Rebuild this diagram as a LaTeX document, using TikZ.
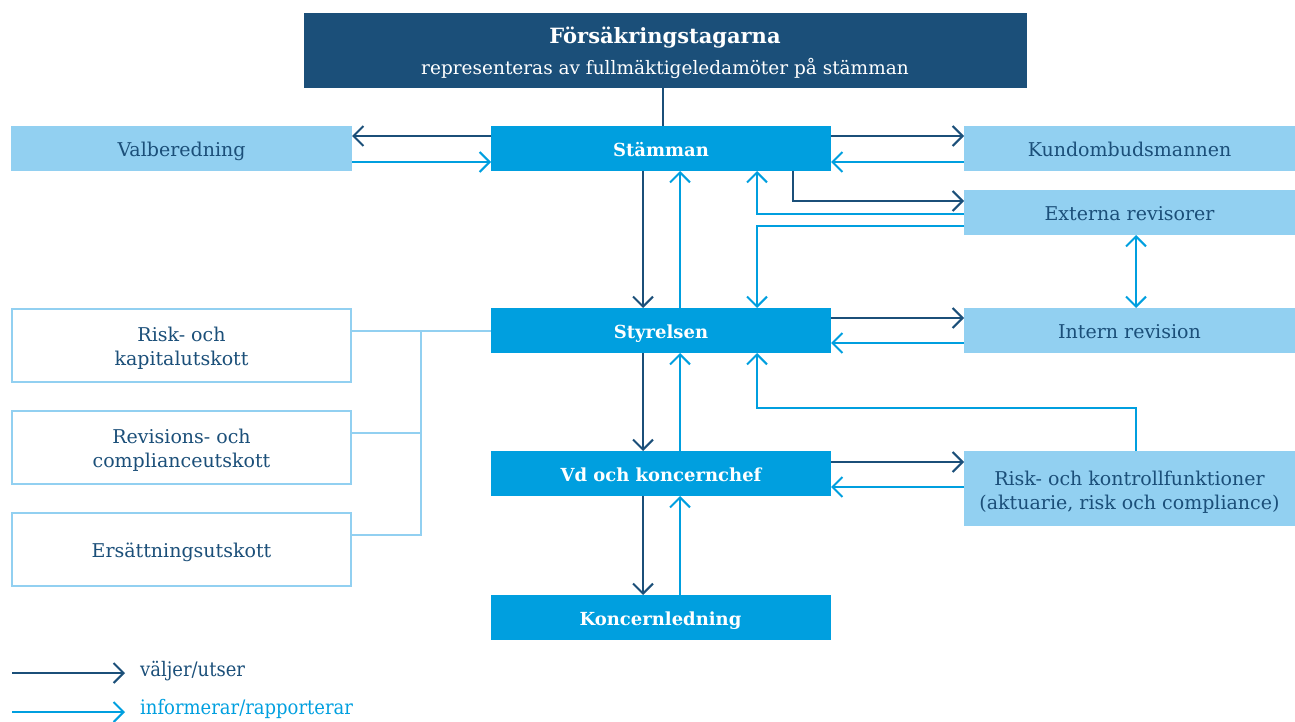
\documentclass[tikz,border=0pt]{standalone}
\usepackage{fontspec}
\setmainfont{DejaVu Serif}
\newfontfamily\condfont{DejaVu Serif Condensed}
\usetikzlibrary{arrows.meta,calc}
\definecolor{dkc}{HTML}{1B4F79}
\definecolor{brc}{HTML}{009FDF}
\definecolor{ltc}{HTML}{92D0F1}
\begin{document}
\begin{tikzpicture}[x=1pt,y=-1pt,
  mainbox/.style={fill=brc, text=white, font=\bfseries\fontsize{18}{21}\selectfont,
    minimum width=340pt, minimum height=45pt, inner sep=0pt, outer sep=0pt,
    text height=15.5pt, text depth=0pt},
  sidebox/.style={fill=ltc, text=dkc, font=\fontsize{19}{24}\selectfont, align=center,
    minimum width=331pt, minimum height=45pt, inner sep=0pt, outer sep=0pt,
    text height=15.5pt, text depth=0pt},
  plainfill/.style={fill=ltc, minimum width=331pt, minimum height=75pt, inner sep=0pt, outer sep=0pt},
  combox/.style={draw=ltc, line width=2pt, fill=white,
    minimum width=339pt, minimum height=73pt, inner sep=0pt, outer sep=0pt},
  boxtext/.style={text=dkc, align=center, font=\fontsize{19}{24}\selectfont, inner sep=0pt},
  tip/.tip={Straight Barb[length=10pt,width=20pt]},
  dka/.style={draw=dkc, line width=2pt, -tip},
  lta/.style={draw=brc, line width=2pt, -tip},
  ltb/.style={draw=brc, line width=2pt, tip-tip},
  dkline/.style={draw=dkc, line width=2pt},
  ltline/.style={draw=ltc, line width=2pt},
  legtext/.style={anchor=west, font=\condfont\fontsize{20}{22}\selectfont, inner sep=0pt}
]
\useasboundingbox (0,0) rectangle (1295,722);

% top box
\node[fill=dkc, minimum width=723pt, minimum height=75pt, inner sep=0pt, outer sep=0pt] (top) at (665.5,50.5) {};
\node[text=white, font=\bfseries\fontsize{21}{24}\selectfont, inner sep=0pt] (toptitle) at (665,38) {Försäkringstagarna};
\node[text=white, font=\fontsize{18.5}{22}\selectfont, inner sep=0pt] (topsub) at (665,68) {representeras av fullmäktigeledamöter på stämman};

% main column
\node[mainbox] (stam) at (661,148.5) {Stämman};
\node[mainbox] (styr) at (661,330.5) {Styrelsen};
\node[mainbox] (vd) at (661,473.5) {Vd och koncernchef};
\node[mainbox] (konc) at (660.5,617.5) {Koncernledning};

% side boxes
\node[sidebox, minimum width=341pt] (valb) at (181.5,148.5) {Valberedning};
\node[sidebox] (kund) at (1129.5,148.5) {Kundombudsmannen};
\node[sidebox] (ext) at (1129.5,212.5) {Externa revisorer};
\node[sidebox] (int) at (1129.5,330.5) {Intern revision};
\node[plainfill] (risk) at (1129.5,488.5) {};
\node[boxtext] (riskt) at ([yshift=-4pt]risk.center) {Risk- och kontrollfunktioner\\(aktuarie, risk och compliance)};

% committees
\node[combox] (c1) at (181.5,345.5) {};
\node[boxtext] (c1t) at ([yshift=-3pt]c1.center) {Risk- och\\kapitalutskott};
\node[combox] (c2) at (181.5,447.5) {};
\node[boxtext] (c2t) at ([yshift=-3pt]c2.center) {Revisions- och\\complianceutskott};
\node[combox] (c3) at (181.5,549.5) {};
\node[boxtext, text height=15.5pt, text depth=0pt] (c3t) at (c3.center) {Ersättningsutskott};

% helper x positions
\coordinate (xd) at (643,0);
\coordinate (xl) at (680,0);
\coordinate (xv) at (757,0);
\coordinate (xe) at (793,0);
\coordinate (xr) at (1136,0);
\coordinate (xt) at (663,0);
\coordinate (xj) at (421,0);

% top to Stämman
\draw[dkline] (top.south -| xt) -- (stam.north -| xt);

% Stämman <-> Valberedning
\draw[dka] ([yshift=-10pt]stam.north west) -- ([yshift=-10pt]valb.north east);
\draw[lta] ([yshift=9pt]valb.south east) -- ([yshift=9pt]stam.south west);
% Stämman <-> Kundombudsmannen
\draw[dka] ([yshift=-10pt]stam.north east) -- ([yshift=-10pt]kund.north west);
\draw[lta] ([yshift=9pt]kund.south west) -- ([yshift=9pt]stam.south east);
% Stämman -> Externa
\draw[dka] (stam.south -| xe) |- ([yshift=-11pt]ext.north west);
\draw[lta] ([yshift=-24pt]ext.north west) -| (stam.south -| xv);
\draw[lta] ([yshift=9pt]ext.south west) -| (styr.north -| xv);
% Externa <-> Intern
\draw[ltb] (ext.south -| xr) -- (int.north -| xr);

% vertical chain
\draw[dka] (stam.south -| xd) -- (styr.north -| xd);
\draw[lta] (styr.north -| xl) -- (stam.south -| xl);
\draw[dka] (styr.south -| xd) -- (vd.north -| xd);
\draw[lta] (vd.north -| xl) -- (styr.south -| xl);
\draw[dka] (vd.south -| xd) -- (konc.north -| xd);
\draw[lta] (konc.north -| xl) -- (vd.south -| xl);

% Styrelsen <-> Intern
\draw[dka] ([yshift=-10pt]styr.north east) -- ([yshift=-10pt]int.north west);
\draw[lta] ([yshift=10pt]int.south west) -- ([yshift=10pt]styr.south east);

% Vd <-> Risk
\draw[dka] ([yshift=-11pt]vd.north east) -- ([yshift=-11pt]risk.north west);
\draw[lta] ([yshift=-36pt]risk.north west) -- ([yshift=-36pt]vd.north east);
% Risk -> Styrelsen
\draw[lta] (risk.north -| xr) |- ($(styr.south -| xv)+(0,55)$) -- (styr.south -| xv);

% committees connectors
\coordinate (c1j) at ([yshift=-22pt]c1.north east);
\coordinate (c2j) at ([yshift=-22pt]c2.north east);
\coordinate (c3j) at ([yshift=-22pt]c3.north east);
\draw[ltline] (c1j) -- (c1j -| styr.west);
\draw[ltline] (c2j) -- (c2j -| xj);
\draw[ltline] (c3j) -| (c1j -| xj);

% legend
\coordinate (l1a) at (12,673);
\coordinate (l1b) at (125,673);
\coordinate (l2a) at (12,712);
\coordinate (l2b) at (125,712);
\draw[dka] (l1a) -- (l1b);
\draw[lta] (l2a) -- (l2b);
\node[legtext, text=dkc] (l1t) at (140,671) {väljer/utser};
\node[legtext, text=brc] (l2t) at (140,709) {informerar/rapporterar};
\end{tikzpicture}
\end{document}
